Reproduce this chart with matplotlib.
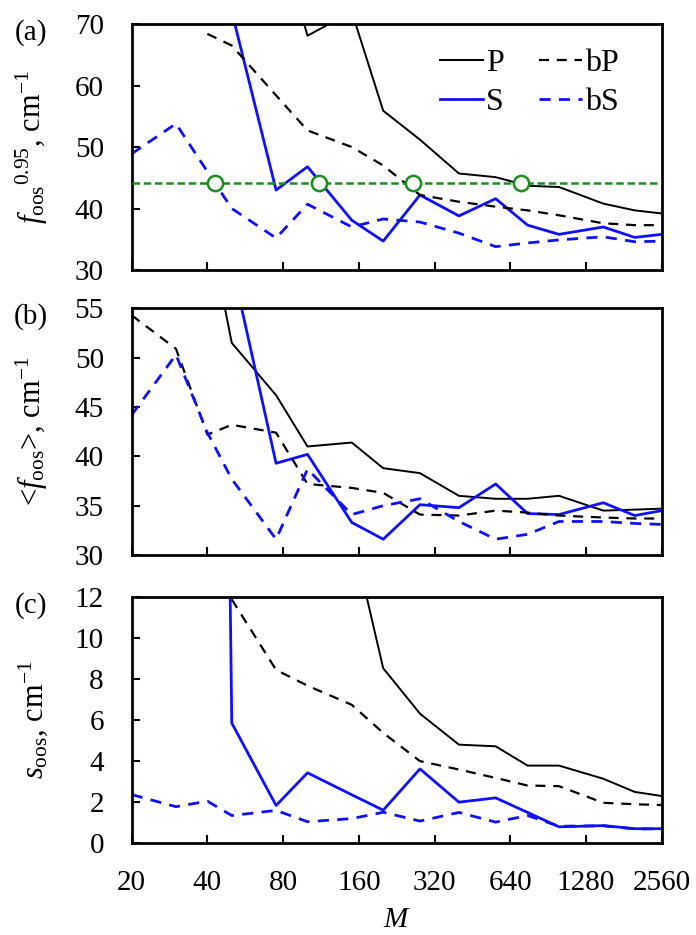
import numpy as np
import matplotlib
matplotlib.use("Agg")
import matplotlib.pyplot as plt

plt.rcParams['font.family'] = ['Liberation Serif', 'DejaVu Serif']
plt.rcParams['mathtext.fontset'] = 'custom'
plt.rcParams['mathtext.rm'] = 'Liberation Serif'
plt.rcParams['mathtext.it'] = 'Liberation Serif:italic'

nan = np.nan
M = [20, 30, 40, 50, 75, 100, 150, 200, 280, 400, 560, 750, 1000, 1500, 2000, 2560]

# (a) 95th percentile of out-of-sample error
P_a = [nan, nan, nan, nan, 86, 68.1, 72, 55.9, 51.2, 45.7, 45.1, 43.7, 43.5, 40.8, 39.7, 39.2]
S_a = [nan, nan, 150, 72, 43.0, 46.8, 38.1, 34.7, 42.2, 38.8, 41.6, 37.3, 35.8, 37.0, 35.3, 35.8]
bP_a = [nan, nan, 68.4, 66.5, 58.4, 52.7, 50.0, 47.0, 42.2, 41.1, 40.3, 39.7, 38.9, 37.6, 37.3, 37.3]
bS_a = [48.9, 53.8, 46.0, 40.0, 35.2, 40.7, 37.0, 38.3, 37.8, 36.0, 33.8, 34.4, 34.9, 35.4, 34.6, 34.7]
threshold = 44.2
cross_M = [43, 111, 262, 705]

# (b) mean out-of-sample error
P_b = [nan, nan, 64, 51.5, 46.2, 41.0, 41.4, 38.8, 38.3, 36.0, 35.7, 35.7, 36.0, 34.5, 34.6, 34.7]
S_b = [nan, nan, 120, 59.5, 39.3, 40.2, 33.3, 31.6, 35.1, 34.8, 37.2, 34.2, 34.1, 35.3, 34.0, 34.5]
bP_b = [54.3, 50.9, 42.2, 43.2, 42.4, 37.2, 36.8, 36.3, 34.1, 34.0, 34.5, 34.3, 34.0, 33.8, 33.7, 33.7]
bS_b = [44.2, 50.3, 42.4, 37.7, 31.6, 38.7, 34.1, 35.0, 35.7, 33.4, 31.6, 32.1, 33.4, 33.4, 33.2, 33.1]

# (c) standard deviation
P_c = [nan, nan, nan, nan, nan, nan, 15.1, 8.52, 6.31, 4.8, 4.72, 3.78, 3.78, 3.14, 2.5, 2.3]
S_c = [nan, nan, 100, 5.85, 1.84, 3.43, 2.36, 1.61, 3.62, 2.0, 2.21, 1.5, 0.8, 0.86, 0.71, 0.71]
bP_c = [nan, nan, nan, 11.87, 8.44, 7.67, 6.74, 5.37, 4.0, 3.59, 3.18, 2.81, 2.78, 1.97, 1.9, 1.86]
bS_c = [2.37, 1.78, 2.05, 1.35, 1.6, 1.05, 1.2, 1.51, 1.08, 1.5, 1.03, 1.35, 0.83, 0.85, 0.7, 0.7]

xticks = [20, 40, 80, 160, 320, 640, 1280, 2560]
blue = '#1010ff'
green = '#1e8c1e'
fs = 21

fig = plt.figure(figsize=(6.96, 9.35), dpi=100)
left, width = 0.1892, 0.7615
axes = [fig.add_axes([left, 0.7112, width, 0.2631]),
        fig.add_axes([left, 0.4064, width, 0.2638]),
        fig.add_axes([left, 0.0981, width, 0.2637])]

panels = [(P_a, S_a, bP_a, bS_a, (30, 70), 10, r'$f_{\rm oos}{}^{0.95}$, cm$^{-1}$', '(a)'),
          (P_b, S_b, bP_b, bS_b, (30, 55), 5, r'<$f_{\rm oos}$>, cm$^{-1}$', '(b)'),
          (P_c, S_c, bP_c, bS_c, (0, 12), 2, r'$s_{\rm oos}$, cm$^{-1}$', '(c)')]

for i, (ax, (P, S, bP, bS, ylim, step, ylabel, tag)) in enumerate(zip(axes, panels)):
    lP, = ax.plot(M, P, color='black', lw=1.4, label='P')
    lS, = ax.plot(M, S, color=blue, lw=2.0, label='S')
    lbP, = ax.plot(M, bP, color='black', lw=1.6, ls=(0, (4.5, 3.5)), label='bP')
    lbS, = ax.plot(M, bS, color=blue, lw=2.0, ls=(0, (4, 3)), label='bS')
    if i == 0:
        ax.axhline(threshold, color=green, lw=1.8, ls=(0, (3, 1.5)), zorder=3)
        ax.plot(cross_M, [threshold] * len(cross_M), 'o', ms=11, mfc='white',
                mec=green, mew=1.8, zorder=4)
        ax.legend([lP, lS, lbP, lbS], ['P', 'S', 'bP', 'bS'], ncol=2,
                  loc='upper right', bbox_to_anchor=(0.95, 0.965), frameon=False,
                  fontsize=23, handlelength=1.35, handletextpad=0.1,
                  columnspacing=1.1, labelspacing=0.3, borderpad=0)
    ax.set_xscale('log', base=2)
    ax.set_xlim(20, 2560)
    ax.set_ylim(*ylim)
    ax.set_xticks(xticks)
    ax.xaxis.set_minor_locator(matplotlib.ticker.NullLocator())
    ax.set_yticks(np.arange(ylim[0], ylim[1] + 0.01, step))
    if i == 2:
        ax.set_xticklabels([str(t) for t in xticks])
        ax.set_xlabel(r'$M$', fontsize=fs, labelpad=8)
    else:
        ax.set_xticklabels([])
    ax.tick_params(axis='both', direction='in', length=6, width=1.5,
                   labelsize=fs, top=False, right=False)
    ax.tick_params(axis='y', pad=20)
    ax.tick_params(axis='x', pad=19)
    for sp in ax.spines.values():
        sp.set_linewidth(2)
    ax.set_ylabel(ylabel, fontsize=fs + 1)
    ax.yaxis.set_label_coords(-0.155, 0.5)
    ax.text(-0.19, 1.02, tag, transform=ax.transAxes, fontsize=fs,
            ha='center', va='top')

fig.savefig('out.png', dpi=100)
